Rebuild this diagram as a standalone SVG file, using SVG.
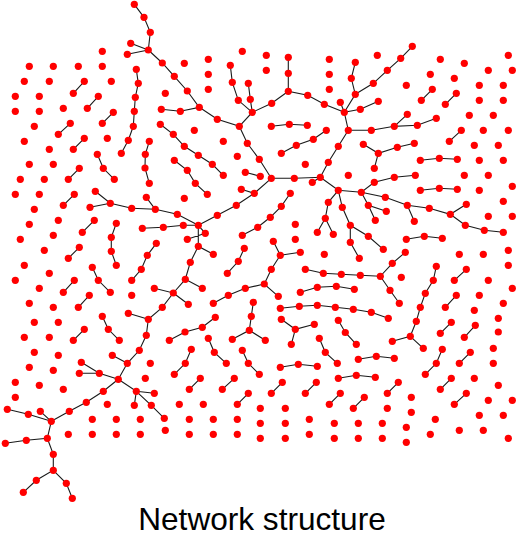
<svg xmlns="http://www.w3.org/2000/svg" width="530" height="537" viewBox="0 0 530 537">
<style>
.n circle{fill:#ff0000;stroke:none}
#connectors path{fill:none;stroke:#1a1a1a;stroke-width:1.1}
.t{font-family:"Liberation Sans",Arial,sans-serif;font-size:31.6px;fill:#000}
</style>
<rect width="530" height="537" fill="#fff"/>
<g id="connectors">
<path d="M84.3,81.3L73.3,93.3M98.3,96.3L87.3,108.3M113.3,112.3L102.3,123.3M70.3,123.3L58.3,134.3M84.3,138.3L73.3,149.3"/>
<path d="M136.3,69.3L138.3,83.3L135.3,97.3L134.3,111.3L133.3,126.3L128.3,140.3L121.3,153.3"/>
<path d="M97.3,154.3L103.3,168.3L114.3,179.3"/>
<path d="M130.7,43.3L148.3,50M127.3,54.3L148.3,50"/>
<path d="M134.3,4.3L144,17.3L150.3,32.3L148.3,50L162.3,63L174.3,76.3L187.3,91L199.3,107.3L180.3,111.3L161.3,109.3"/>
<path d="M199.3,107.3L217.3,119.3L239.3,126.3L247.3,143.3L259.3,159.3L271.3,178.3"/>
<path d="M239.3,126.3L252.3,112.3L271.7,103.3L288.3,91.3"/>
<path d="M230.3,65.3L232.3,82.3L238.3,100.3L252.3,112.3M248.3,83.3L250.3,99.3L252.3,112.3"/>
<path d="M160.3,124.3L173.3,134.3L184.3,146.3L198.3,155.3L212.3,164.3L223.3,175.3"/>
<path d="M149.3,141.3L145.3,154.3L145,168L149.3,183.3"/>
<path d="M174.3,160.3L187.3,170.3L195.3,183.3L207.3,194.3"/>
<path d="M288.3,57.3L288.3,73.3L288.3,91.3L307.7,95.3L324.3,104.3L344.3,112.3"/>
<path d="M355.3,62.3L351.3,78.3L355.3,94.3L344.3,112.3M412.3,46.3L400.7,58.3L387.3,70.3L373.3,83.3L355.3,94.3"/>
<path d="M340.3,102.3L344.3,112.3M378.3,101.3L360.3,109.3L344.3,112.3"/>
<path d="M344.3,112.3L348.3,130.3L371.3,130.3L394.3,126.3M348.3,130.3L338.3,146.3L328.3,162.3L320.3,177.3"/>
<path d="M271.3,126.3L289.3,124.3L307.3,125.3M326.3,130.3L313.3,139.3L296.3,145.3L281.3,153.3"/>
<path d="M363.3,144.3L378.3,153.3L397.3,147.3L414.3,143.3M378.3,153.3L374.3,168.3"/>
<path d="M432.3,89.3L421.3,100.3M456.3,93.3L445.3,104.3M407.3,114.3L394.3,126.3L417.3,125.3L436.3,118.3M461.3,130.3L449.3,141.3M420.3,160.3L439.3,158.3L457.3,159.3"/>
<path d="M79.3,168.3L68.3,179.3M95.3,191.3L110.3,203.3L131.7,208.3M90,207.3L110.3,203.3M74.3,194.3L63.3,205.3M94.3,220.3L82.3,232.3"/>
<path d="M116.3,223.3L111.3,237.3L111.3,251.3L116.3,265.3M79.3,247.3L68.3,258.3M92.3,267.3L98.3,280.3L110.3,292.3M74.3,280.3L63.3,292.3M89.3,295.3L78.3,307.3M102.3,316.3L108.3,329.3L119.3,340.3M84.3,329.3L73.3,340.3"/>
<path d="M245.3,172.3L260.3,176.3M241.3,189.3L254.3,193.3L271.3,178.3M254.3,193.3L236.3,205.3L217.3,215.3L198.3,225.3"/>
<path d="M198.3,225.3L177.3,214.3L155.3,209.3L131.7,208.3M146.3,197.3L155.3,209.3M198.3,225.3L183.3,225.3L163.3,227.3L142.3,228.3"/>
<path d="M198.3,225.3L205.3,233.3L187.3,239.3M198.3,225.3L198.3,246.3L213.3,254.3M198.3,246.3L190.3,262.3L185.3,279.3L202.3,288.3M185.3,279.3L173.3,293L154.3,288.3M173.3,293L188.3,304.3M173.3,293L162.3,307.3L148.3,319.3L146.3,335.3L139.3,350.3L127.3,363.3L118.3,379.3M128.3,313.3L148.3,319.3"/>
<path d="M156.3,243.3L147.3,255.3L141.3,269.3L131.7,280.3M290.3,193.3L281.3,206.3L270.3,217.3L257.7,227.3L242.3,235.3M244.3,248.3L238.3,261.3L227.3,273.3"/>
<path d="M213.3,303.3L228.3,295.3L245.3,288.3L264.3,284L278.3,296.3M264.3,284L271.3,269.3L280.3,255.3L273.3,241.3M280.3,255.3L300.3,252.3"/>
<path d="M253.3,302.3L251.3,316.3L249.3,330.3L232.3,339.3M249.3,330.3L265.3,340.3M215.3,317.3L202.3,327.3L185,332L169.3,340.3"/>
<path d="M271.3,178.3L294.3,178.3L320.3,177.3L312.3,182.3M320.3,177.3L338.3,190.3L361.3,192.3L374.3,182.3L394.3,177.3L415.3,175.3M361.3,192.3L385.3,197.3L407.3,205.3M361.3,192.3L368.3,205.3L386.3,211.3M368.3,205.3L375.3,220.3"/>
<path d="M338.3,190.3L328.3,202.3L325.3,218.3L317.3,232.3M325.3,218.3L333.3,234.3M338.3,190.3L342.3,207.3L350.3,225.3L368.3,236.3L383.3,249.3M350.3,225.3L350.3,242.3L359.3,258.3"/>
<path d="M305.3,269.3L323.3,273.3L341.3,274.3L360.3,275.3L380.3,276.3L392.3,263.3L405.3,252.3M380.3,276.3L390,290.3L399.3,303.3"/>
<path d="M300.3,292.3L317.3,287.3L336.3,286.3L354.3,289.3M280.3,308.3L299.3,306.3L317.3,305.3L335.3,307.3L353.3,309.3L371.3,312.3L388.3,318.3"/>
<path d="M281.3,319.3L295.3,329.3L314.3,324.3M295.3,329.3L291.3,344.3M338.3,320.3L345.3,332.5L356.3,344.3"/>
<path d="M420.3,190.3L439.3,188.3L457.3,189.3M407.3,205.3L429.3,208.3L450.3,214.3L466.3,204.3M407.3,205.3L414.3,221.3M450.3,214.3L465.3,225.3L484.3,230.3L503.3,232.3M406.3,239.3L424.3,236.3L442.3,238.3"/>
<path d="M436.3,266.3L433.3,280.3L425.3,293.3L420.3,307.3L416.3,321.3L410.3,336.3L392.3,341.3M410.3,336.3L423.3,348.3"/>
<path d="M466.3,269.3L454.3,280.3M456.3,295.3L445.3,307.3M451.3,322.3L440.3,333.3M475.3,325.3L464.3,337.3"/>
<path d="M112.3,355.3L127.3,363.3M81.3,362.3L99.3,373.3L118.3,379.3M79.3,373.3L99.3,373.3M118.3,379.3L103.3,391.3L86.3,402.3L69.3,411.3L51.3,421.3M7.3,409.3L28.3,414.3L51.3,421.3M40.3,411.3L51.3,421.3"/>
<path d="M51.3,421.3L47.3,438.3L26.3,440.3L5.3,443.3M47.3,438.3L53.3,454.3L53.3,470.3L36.3,480.3L23.3,492.3M53.3,470.3L66.3,483.3L72.3,498.3"/>
<path d="M118.3,379.3L136.3,391.3L154.3,393.3M136.3,391.3L134.3,405.3M136.3,391.3L151.3,405.3L164.3,418.3"/>
<path d="M208.3,338.3L214.3,352.3L226.3,363.3M191.3,349.3L185.3,363.3L174.3,374.3M200.3,378.3L189.3,389.3M242.3,350.3L248.3,363.3L259.3,374.3M234.3,378.3L222.3,389.3M248.3,393.3L237.3,404.3"/>
<path d="M319.3,338.3L325.3,352.3L337.3,363.3M358.3,359.3L376.3,356.3L394.3,358.3M280.3,367.3L298.3,364.3L317.3,366.3M338.3,378.3L356.3,375.3L375.3,377.3"/>
<path d="M282.3,382.3L271.3,393.3M316.3,382.3L305.3,393.3M340.3,393.3L329.3,404.3M364.3,397.3L353.3,408.3M387.3,393.3L398.3,382.3"/>
<path d="M442.3,349.3L436.3,363.3L425.3,374.3M470.3,352.3L459.3,363.3M451.3,378.3L440.3,389.3M466.3,393.3L454.3,404.3"/>
</g>
<g class="n">
<g id="n1"><circle cx="130.7" cy="43.3" r="3.6"/></g>
<g id="n2"><circle cx="102.3" cy="51.3" r="3.6"/></g>
<g id="n3"><circle cx="127.3" cy="54.3" r="3.6"/></g>
<g id="n4"><circle cx="29.3" cy="66.3" r="3.6"/></g>
<g id="n5"><circle cx="53.3" cy="66.3" r="3.6"/></g>
<g id="n6"><circle cx="78.3" cy="66.3" r="3.6"/></g>
<g id="n7"><circle cx="102.3" cy="66.3" r="3.6"/></g>
<g id="n8"><circle cx="24.3" cy="81.3" r="3.6"/></g>
<g id="n9"><circle cx="49.3" cy="81.3" r="3.6"/></g>
<g id="n10"><circle cx="84.3" cy="81.3" r="3.6"/></g>
<g id="n11"><circle cx="73.3" cy="93.3" r="3.6"/></g>
<g id="n12"><circle cx="111.3" cy="81.3" r="3.6"/></g>
<g id="n13"><circle cx="15.3" cy="96.3" r="3.6"/></g>
<g id="n14"><circle cx="39.3" cy="96.3" r="3.6"/></g>
<g id="n15"><circle cx="98.3" cy="96.3" r="3.6"/></g>
<g id="n16"><circle cx="87.3" cy="108.3" r="3.6"/></g>
<g id="n17"><circle cx="15.3" cy="111.3" r="3.6"/></g>
<g id="n18"><circle cx="39.3" cy="111.3" r="3.6"/></g>
<g id="n19"><circle cx="63.3" cy="108.3" r="3.6"/></g>
<g id="n20"><circle cx="113.3" cy="112.3" r="3.6"/></g>
<g id="n21"><circle cx="102.3" cy="123.3" r="3.6"/></g>
<g id="n22"><circle cx="34.3" cy="126.3" r="3.6"/></g>
<g id="n23"><circle cx="70.3" cy="123.3" r="3.6"/></g>
<g id="n24"><circle cx="58.3" cy="134.3" r="3.6"/></g>
<g id="n25"><circle cx="24.3" cy="141.3" r="3.6"/></g>
<g id="n26"><circle cx="49.3" cy="149.3" r="3.6"/></g>
<g id="n27"><circle cx="84.3" cy="138.3" r="3.6"/></g>
<g id="n28"><circle cx="73.3" cy="149.3" r="3.6"/></g>
<g id="n29"><circle cx="107.3" cy="138.3" r="3.6"/></g>
<g id="n30"><circle cx="128.3" cy="140.3" r="3.6"/></g>
<g id="n31"><circle cx="121.3" cy="153.3" r="3.6"/></g>
<g id="n32"><circle cx="97.3" cy="154.3" r="3.6"/></g>
<g id="n33"><circle cx="29.3" cy="164.3" r="3.6"/></g>
<g id="n34"><circle cx="53.3" cy="164.3" r="3.6"/></g>
<g id="n35"><circle cx="134.3" cy="4.3" r="3.6"/></g>
<g id="n36"><circle cx="144" cy="17.3" r="3.6"/></g>
<g id="n37"><circle cx="150.3" cy="32.3" r="3.6"/></g>
<g id="n38"><circle cx="148.3" cy="50" r="3.6"/></g>
<g id="n39"><circle cx="162.3" cy="63" r="3.6"/></g>
<g id="n40"><circle cx="174.3" cy="76.3" r="3.6"/></g>
<g id="n41"><circle cx="187.3" cy="91" r="3.6"/></g>
<g id="n42"><circle cx="199.3" cy="107.3" r="3.6"/></g>
<g id="n43"><circle cx="180.3" cy="111.3" r="3.6"/></g>
<g id="n44"><circle cx="161.3" cy="109.3" r="3.6"/></g>
<g id="n45"><circle cx="217.3" cy="119.3" r="3.6"/></g>
<g id="n46"><circle cx="239.3" cy="126.3" r="3.6"/></g>
<g id="n47"><circle cx="252.3" cy="112.3" r="3.6"/></g>
<g id="n48"><circle cx="238.3" cy="100.3" r="3.6"/></g>
<g id="n49"><circle cx="232.3" cy="82.3" r="3.6"/></g>
<g id="n50"><circle cx="230.3" cy="65.3" r="3.6"/></g>
<g id="n51"><circle cx="250.3" cy="99.3" r="3.6"/></g>
<g id="n52"><circle cx="248.3" cy="83.3" r="3.6"/></g>
<g id="n53"><circle cx="247.3" cy="143.3" r="3.6"/></g>
<g id="n54"><circle cx="259.3" cy="159.3" r="3.6"/></g>
<g id="n55"><circle cx="242.3" cy="51.3" r="3.6"/></g>
<g id="n56"><circle cx="184.3" cy="63.3" r="3.6"/></g>
<g id="n57"><circle cx="208.3" cy="59.3" r="3.6"/></g>
<g id="n58"><circle cx="208.3" cy="74.3" r="3.6"/></g>
<g id="n59"><circle cx="208.3" cy="89.3" r="3.6"/></g>
<g id="n60"><circle cx="136.3" cy="69.3" r="3.6"/></g>
<g id="n61"><circle cx="138.3" cy="83.3" r="3.6"/></g>
<g id="n62"><circle cx="135.3" cy="97.3" r="3.6"/></g>
<g id="n63"><circle cx="134.3" cy="111.3" r="3.6"/></g>
<g id="n64"><circle cx="133.3" cy="126.3" r="3.6"/></g>
<g id="n65"><circle cx="165.3" cy="93.3" r="3.6"/></g>
<g id="n66"><circle cx="194.3" cy="130.3" r="3.6"/></g>
<g id="n67"><circle cx="223.3" cy="141.3" r="3.6"/></g>
<g id="n68"><circle cx="237.3" cy="156.3" r="3.6"/></g>
<g id="n69"><circle cx="160.3" cy="124.3" r="3.6"/></g>
<g id="n70"><circle cx="173.3" cy="134.3" r="3.6"/></g>
<g id="n71"><circle cx="184.3" cy="146.3" r="3.6"/></g>
<g id="n72"><circle cx="198.3" cy="155.3" r="3.6"/></g>
<g id="n73"><circle cx="212.3" cy="164.3" r="3.6"/></g>
<g id="n74"><circle cx="149.3" cy="141.3" r="3.6"/></g>
<g id="n75"><circle cx="145.3" cy="154.3" r="3.6"/></g>
<g id="n76"><circle cx="145" cy="168" r="3.6"/></g>
<g id="n77"><circle cx="174.3" cy="160.3" r="3.6"/></g>
<g id="n78"><circle cx="266.3" cy="55.3" r="3.6"/></g>
<g id="n79"><circle cx="266.3" cy="70.3" r="3.6"/></g>
<g id="n80"><circle cx="288.3" cy="57.3" r="3.6"/></g>
<g id="n81"><circle cx="288.3" cy="73.3" r="3.6"/></g>
<g id="n82"><circle cx="288.3" cy="91.3" r="3.6"/></g>
<g id="n83"><circle cx="307.7" cy="95.3" r="3.6"/></g>
<g id="n84"><circle cx="324.3" cy="104.3" r="3.6"/></g>
<g id="n85"><circle cx="344.3" cy="112.3" r="3.6"/></g>
<g id="n86"><circle cx="271.7" cy="103.3" r="3.6"/></g>
<g id="n87"><circle cx="329.3" cy="59.3" r="3.6"/></g>
<g id="n88"><circle cx="329.3" cy="74.3" r="3.6"/></g>
<g id="n89"><circle cx="329.3" cy="89.3" r="3.6"/></g>
<g id="n90"><circle cx="355.3" cy="62.3" r="3.6"/></g>
<g id="n91"><circle cx="351.3" cy="78.3" r="3.6"/></g>
<g id="n92"><circle cx="355.3" cy="94.3" r="3.6"/></g>
<g id="n93"><circle cx="377.3" cy="55.3" r="3.6"/></g>
<g id="n94"><circle cx="387.3" cy="70.3" r="3.6"/></g>
<g id="n95"><circle cx="373.3" cy="83.3" r="3.6"/></g>
<g id="n96"><circle cx="340.3" cy="102.3" r="3.6"/></g>
<g id="n97"><circle cx="378.3" cy="101.3" r="3.6"/></g>
<g id="n98"><circle cx="360.3" cy="109.3" r="3.6"/></g>
<g id="n99"><circle cx="348.3" cy="130.3" r="3.6"/></g>
<g id="n100"><circle cx="371.3" cy="130.3" r="3.6"/></g>
<g id="n101"><circle cx="338.3" cy="146.3" r="3.6"/></g>
<g id="n102"><circle cx="328.3" cy="162.3" r="3.6"/></g>
<g id="n103"><circle cx="271.3" cy="126.3" r="3.6"/></g>
<g id="n104"><circle cx="289.3" cy="124.3" r="3.6"/></g>
<g id="n105"><circle cx="307.3" cy="125.3" r="3.6"/></g>
<g id="n106"><circle cx="326.3" cy="130.3" r="3.6"/></g>
<g id="n107"><circle cx="313.3" cy="139.3" r="3.6"/></g>
<g id="n108"><circle cx="296.3" cy="145.3" r="3.6"/></g>
<g id="n109"><circle cx="281.3" cy="153.3" r="3.6"/></g>
<g id="n110"><circle cx="363.3" cy="144.3" r="3.6"/></g>
<g id="n111"><circle cx="378.3" cy="153.3" r="3.6"/></g>
<g id="n112"><circle cx="305.3" cy="164.3" r="3.6"/></g>
<g id="n113"><circle cx="412.3" cy="46.3" r="3.6"/></g>
<g id="n114"><circle cx="400.7" cy="58.3" r="3.6"/></g>
<g id="n115"><circle cx="440.3" cy="59.3" r="3.6"/></g>
<g id="n116"><circle cx="464.3" cy="63.3" r="3.6"/></g>
<g id="n117"><circle cx="508.3" cy="55.3" r="3.6"/></g>
<g id="n118"><circle cx="488.3" cy="70.3" r="3.6"/></g>
<g id="n119"><circle cx="512.3" cy="70.3" r="3.6"/></g>
<g id="n120"><circle cx="430.3" cy="74.3" r="3.6"/></g>
<g id="n121"><circle cx="454.3" cy="78.3" r="3.6"/></g>
<g id="n122"><circle cx="406.3" cy="85.3" r="3.6"/></g>
<g id="n123"><circle cx="432.3" cy="89.3" r="3.6"/></g>
<g id="n124"><circle cx="421.3" cy="100.3" r="3.6"/></g>
<g id="n125"><circle cx="456.3" cy="93.3" r="3.6"/></g>
<g id="n126"><circle cx="445.3" cy="104.3" r="3.6"/></g>
<g id="n127"><circle cx="479.3" cy="85.3" r="3.6"/></g>
<g id="n128"><circle cx="503.3" cy="85.3" r="3.6"/></g>
<g id="n129"><circle cx="479.3" cy="100.3" r="3.6"/></g>
<g id="n130"><circle cx="503.3" cy="100.3" r="3.6"/></g>
<g id="n131"><circle cx="469.3" cy="115.3" r="3.6"/></g>
<g id="n132"><circle cx="493.3" cy="115.3" r="3.6"/></g>
<g id="n133"><circle cx="407.3" cy="114.3" r="3.6"/></g>
<g id="n134"><circle cx="394.3" cy="126.3" r="3.6"/></g>
<g id="n135"><circle cx="417.3" cy="125.3" r="3.6"/></g>
<g id="n136"><circle cx="436.3" cy="118.3" r="3.6"/></g>
<g id="n137"><circle cx="461.3" cy="130.3" r="3.6"/></g>
<g id="n138"><circle cx="449.3" cy="141.3" r="3.6"/></g>
<g id="n139"><circle cx="483.3" cy="130.3" r="3.6"/></g>
<g id="n140"><circle cx="508.3" cy="130.3" r="3.6"/></g>
<g id="n141"><circle cx="474.3" cy="145.3" r="3.6"/></g>
<g id="n142"><circle cx="498.3" cy="145.3" r="3.6"/></g>
<g id="n143"><circle cx="397.3" cy="147.3" r="3.6"/></g>
<g id="n144"><circle cx="414.3" cy="143.3" r="3.6"/></g>
<g id="n145"><circle cx="420.3" cy="160.3" r="3.6"/></g>
<g id="n146"><circle cx="439.3" cy="158.3" r="3.6"/></g>
<g id="n147"><circle cx="457.3" cy="159.3" r="3.6"/></g>
<g id="n148"><circle cx="479.3" cy="160.3" r="3.6"/></g>
<g id="n149"><circle cx="503.3" cy="160.3" r="3.6"/></g>
<g id="n150"><circle cx="79.3" cy="168.3" r="3.6"/></g>
<g id="n151"><circle cx="68.3" cy="179.3" r="3.6"/></g>
<g id="n152"><circle cx="103.3" cy="168.3" r="3.6"/></g>
<g id="n153"><circle cx="114.3" cy="179.3" r="3.6"/></g>
<g id="n154"><circle cx="20.3" cy="179.3" r="3.6"/></g>
<g id="n155"><circle cx="44.3" cy="179.3" r="3.6"/></g>
<g id="n156"><circle cx="15.3" cy="194.3" r="3.6"/></g>
<g id="n157"><circle cx="39.3" cy="194.3" r="3.6"/></g>
<g id="n158"><circle cx="74.3" cy="194.3" r="3.6"/></g>
<g id="n159"><circle cx="63.3" cy="205.3" r="3.6"/></g>
<g id="n160"><circle cx="95.3" cy="191.3" r="3.6"/></g>
<g id="n161"><circle cx="110.3" cy="203.3" r="3.6"/></g>
<g id="n162"><circle cx="90" cy="207.3" r="3.6"/></g>
<g id="n163"><circle cx="34.3" cy="209.3" r="3.6"/></g>
<g id="n164"><circle cx="29.3" cy="224.3" r="3.6"/></g>
<g id="n165"><circle cx="58.3" cy="220.3" r="3.6"/></g>
<g id="n166"><circle cx="94.3" cy="220.3" r="3.6"/></g>
<g id="n167"><circle cx="82.3" cy="232.3" r="3.6"/></g>
<g id="n168"><circle cx="116.3" cy="223.3" r="3.6"/></g>
<g id="n169"><circle cx="111.3" cy="237.3" r="3.6"/></g>
<g id="n170"><circle cx="111.3" cy="251.3" r="3.6"/></g>
<g id="n171"><circle cx="116.3" cy="265.3" r="3.6"/></g>
<g id="n172"><circle cx="20.3" cy="239.3" r="3.6"/></g>
<g id="n173"><circle cx="53.3" cy="235.3" r="3.6"/></g>
<g id="n174"><circle cx="44.3" cy="250.3" r="3.6"/></g>
<g id="n175"><circle cx="79.3" cy="247.3" r="3.6"/></g>
<g id="n176"><circle cx="68.3" cy="258.3" r="3.6"/></g>
<g id="n177"><circle cx="24.3" cy="265.3" r="3.6"/></g>
<g id="n178"><circle cx="49.3" cy="273.3" r="3.6"/></g>
<g id="n179"><circle cx="15.3" cy="280.3" r="3.6"/></g>
<g id="n180"><circle cx="92.3" cy="267.3" r="3.6"/></g>
<g id="n181"><circle cx="98.3" cy="280.3" r="3.6"/></g>
<g id="n182"><circle cx="110.3" cy="292.3" r="3.6"/></g>
<g id="n183"><circle cx="39.3" cy="288.3" r="3.6"/></g>
<g id="n184"><circle cx="74.3" cy="280.3" r="3.6"/></g>
<g id="n185"><circle cx="63.3" cy="292.3" r="3.6"/></g>
<g id="n186"><circle cx="29.3" cy="303.3" r="3.6"/></g>
<g id="n187"><circle cx="53.3" cy="307.3" r="3.6"/></g>
<g id="n188"><circle cx="89.3" cy="295.3" r="3.6"/></g>
<g id="n189"><circle cx="78.3" cy="307.3" r="3.6"/></g>
<g id="n190"><circle cx="128.3" cy="313.3" r="3.6"/></g>
<g id="n191"><circle cx="34.3" cy="322.3" r="3.6"/></g>
<g id="n192"><circle cx="58.3" cy="322.3" r="3.6"/></g>
<g id="n193"><circle cx="102.3" cy="316.3" r="3.6"/></g>
<g id="n194"><circle cx="108.3" cy="329.3" r="3.6"/></g>
<g id="n195"><circle cx="84.3" cy="329.3" r="3.6"/></g>
<g id="n196"><circle cx="149.3" cy="183.3" r="3.6"/></g>
<g id="n197"><circle cx="187.3" cy="170.3" r="3.6"/></g>
<g id="n198"><circle cx="195.3" cy="183.3" r="3.6"/></g>
<g id="n199"><circle cx="207.3" cy="194.3" r="3.6"/></g>
<g id="n200"><circle cx="223.3" cy="175.3" r="3.6"/></g>
<g id="n201"><circle cx="245.3" cy="172.3" r="3.6"/></g>
<g id="n202"><circle cx="260.3" cy="176.3" r="3.6"/></g>
<g id="n203"><circle cx="241.3" cy="189.3" r="3.6"/></g>
<g id="n204"><circle cx="254.3" cy="193.3" r="3.6"/></g>
<g id="n205"><circle cx="236.3" cy="205.3" r="3.6"/></g>
<g id="n206"><circle cx="217.3" cy="215.3" r="3.6"/></g>
<g id="n207"><circle cx="198.3" cy="225.3" r="3.6"/></g>
<g id="n208"><circle cx="177.3" cy="214.3" r="3.6"/></g>
<g id="n209"><circle cx="155.3" cy="209.3" r="3.6"/></g>
<g id="n210"><circle cx="131.7" cy="208.3" r="3.6"/></g>
<g id="n211"><circle cx="146.3" cy="197.3" r="3.6"/></g>
<g id="n212"><circle cx="183.3" cy="225.3" r="3.6"/></g>
<g id="n213"><circle cx="163.3" cy="227.3" r="3.6"/></g>
<g id="n214"><circle cx="142.3" cy="228.3" r="3.6"/></g>
<g id="n215"><circle cx="205.3" cy="233.3" r="3.6"/></g>
<g id="n216"><circle cx="187.3" cy="239.3" r="3.6"/></g>
<g id="n217"><circle cx="198.3" cy="246.3" r="3.6"/></g>
<g id="n218"><circle cx="213.3" cy="254.3" r="3.6"/></g>
<g id="n219"><circle cx="190.3" cy="262.3" r="3.6"/></g>
<g id="n220"><circle cx="185.3" cy="279.3" r="3.6"/></g>
<g id="n221"><circle cx="202.3" cy="288.3" r="3.6"/></g>
<g id="n222"><circle cx="173.3" cy="293" r="3.6"/></g>
<g id="n223"><circle cx="154.3" cy="288.3" r="3.6"/></g>
<g id="n224"><circle cx="188.3" cy="304.3" r="3.6"/></g>
<g id="n225"><circle cx="162.3" cy="307.3" r="3.6"/></g>
<g id="n226"><circle cx="148.3" cy="319.3" r="3.6"/></g>
<g id="n227"><circle cx="184.3" cy="198.3" r="3.6"/></g>
<g id="n228"><circle cx="156.3" cy="243.3" r="3.6"/></g>
<g id="n229"><circle cx="147.3" cy="255.3" r="3.6"/></g>
<g id="n230"><circle cx="141.3" cy="269.3" r="3.6"/></g>
<g id="n231"><circle cx="131.7" cy="280.3" r="3.6"/></g>
<g id="n232"><circle cx="131.7" cy="295.3" r="3.6"/></g>
<g id="n233"><circle cx="257.7" cy="227.3" r="3.6"/></g>
<g id="n234"><circle cx="242.3" cy="235.3" r="3.6"/></g>
<g id="n235"><circle cx="244.3" cy="248.3" r="3.6"/></g>
<g id="n236"><circle cx="238.3" cy="261.3" r="3.6"/></g>
<g id="n237"><circle cx="227.3" cy="273.3" r="3.6"/></g>
<g id="n238"><circle cx="245.3" cy="288.3" r="3.6"/></g>
<g id="n239"><circle cx="228.3" cy="295.3" r="3.6"/></g>
<g id="n240"><circle cx="213.3" cy="303.3" r="3.6"/></g>
<g id="n241"><circle cx="253.3" cy="302.3" r="3.6"/></g>
<g id="n242"><circle cx="251.3" cy="316.3" r="3.6"/></g>
<g id="n243"><circle cx="249.3" cy="330.3" r="3.6"/></g>
<g id="n244"><circle cx="215.3" cy="317.3" r="3.6"/></g>
<g id="n245"><circle cx="202.3" cy="327.3" r="3.6"/></g>
<g id="n246"><circle cx="185" cy="332" r="3.6"/></g>
<g id="n247"><circle cx="271.3" cy="178.3" r="3.6"/></g>
<g id="n248"><circle cx="294.3" cy="178.3" r="3.6"/></g>
<g id="n249"><circle cx="320.3" cy="177.3" r="3.6"/></g>
<g id="n250"><circle cx="312.3" cy="182.3" r="3.6"/></g>
<g id="n251"><circle cx="338.3" cy="190.3" r="3.6"/></g>
<g id="n252"><circle cx="361.3" cy="192.3" r="3.6"/></g>
<g id="n253"><circle cx="374.3" cy="182.3" r="3.6"/></g>
<g id="n254"><circle cx="385.3" cy="197.3" r="3.6"/></g>
<g id="n255"><circle cx="368.3" cy="205.3" r="3.6"/></g>
<g id="n256"><circle cx="386.3" cy="211.3" r="3.6"/></g>
<g id="n257"><circle cx="375.3" cy="220.3" r="3.6"/></g>
<g id="n258"><circle cx="328.3" cy="202.3" r="3.6"/></g>
<g id="n259"><circle cx="325.3" cy="218.3" r="3.6"/></g>
<g id="n260"><circle cx="317.3" cy="232.3" r="3.6"/></g>
<g id="n261"><circle cx="333.3" cy="234.3" r="3.6"/></g>
<g id="n262"><circle cx="342.3" cy="207.3" r="3.6"/></g>
<g id="n263"><circle cx="350.3" cy="225.3" r="3.6"/></g>
<g id="n264"><circle cx="368.3" cy="236.3" r="3.6"/></g>
<g id="n265"><circle cx="383.3" cy="249.3" r="3.6"/></g>
<g id="n266"><circle cx="350.3" cy="242.3" r="3.6"/></g>
<g id="n267"><circle cx="359.3" cy="258.3" r="3.6"/></g>
<g id="n268"><circle cx="374.3" cy="168.3" r="3.6"/></g>
<g id="n269"><circle cx="348.3" cy="175.3" r="3.6"/></g>
<g id="n270"><circle cx="290.3" cy="193.3" r="3.6"/></g>
<g id="n271"><circle cx="281.3" cy="206.3" r="3.6"/></g>
<g id="n272"><circle cx="270.3" cy="217.3" r="3.6"/></g>
<g id="n273"><circle cx="295.3" cy="224.3" r="3.6"/></g>
<g id="n274"><circle cx="295.3" cy="239.3" r="3.6"/></g>
<g id="n275"><circle cx="273.3" cy="241.3" r="3.6"/></g>
<g id="n276"><circle cx="280.3" cy="255.3" r="3.6"/></g>
<g id="n277"><circle cx="300.3" cy="252.3" r="3.6"/></g>
<g id="n278"><circle cx="271.3" cy="269.3" r="3.6"/></g>
<g id="n279"><circle cx="264.3" cy="284" r="3.6"/></g>
<g id="n280"><circle cx="278.3" cy="296.3" r="3.6"/></g>
<g id="n281"><circle cx="324.3" cy="254.3" r="3.6"/></g>
<g id="n282"><circle cx="305.3" cy="269.3" r="3.6"/></g>
<g id="n283"><circle cx="323.3" cy="273.3" r="3.6"/></g>
<g id="n284"><circle cx="341.3" cy="274.3" r="3.6"/></g>
<g id="n285"><circle cx="360.3" cy="275.3" r="3.6"/></g>
<g id="n286"><circle cx="380.3" cy="276.3" r="3.6"/></g>
<g id="n287"><circle cx="392.3" cy="263.3" r="3.6"/></g>
<g id="n288"><circle cx="390" cy="290.3" r="3.6"/></g>
<g id="n289"><circle cx="300.3" cy="292.3" r="3.6"/></g>
<g id="n290"><circle cx="317.3" cy="287.3" r="3.6"/></g>
<g id="n291"><circle cx="336.3" cy="286.3" r="3.6"/></g>
<g id="n292"><circle cx="354.3" cy="289.3" r="3.6"/></g>
<g id="n293"><circle cx="280.3" cy="308.3" r="3.6"/></g>
<g id="n294"><circle cx="299.3" cy="306.3" r="3.6"/></g>
<g id="n295"><circle cx="317.3" cy="305.3" r="3.6"/></g>
<g id="n296"><circle cx="335.3" cy="307.3" r="3.6"/></g>
<g id="n297"><circle cx="353.3" cy="309.3" r="3.6"/></g>
<g id="n298"><circle cx="371.3" cy="312.3" r="3.6"/></g>
<g id="n299"><circle cx="388.3" cy="318.3" r="3.6"/></g>
<g id="n300"><circle cx="281.3" cy="319.3" r="3.6"/></g>
<g id="n301"><circle cx="295.3" cy="329.3" r="3.6"/></g>
<g id="n302"><circle cx="314.3" cy="324.3" r="3.6"/></g>
<g id="n303"><circle cx="338.3" cy="320.3" r="3.6"/></g>
<g id="n304"><circle cx="345.3" cy="332.5" r="3.6"/></g>
<g id="n305"><circle cx="394.3" cy="177.3" r="3.6"/></g>
<g id="n306"><circle cx="415.3" cy="175.3" r="3.6"/></g>
<g id="n307"><circle cx="464.3" cy="175.3" r="3.6"/></g>
<g id="n308"><circle cx="488.3" cy="175.3" r="3.6"/></g>
<g id="n309"><circle cx="420.3" cy="190.3" r="3.6"/></g>
<g id="n310"><circle cx="439.3" cy="188.3" r="3.6"/></g>
<g id="n311"><circle cx="457.3" cy="189.3" r="3.6"/></g>
<g id="n312"><circle cx="479.3" cy="190.3" r="3.6"/></g>
<g id="n313"><circle cx="512.3" cy="186.3" r="3.6"/></g>
<g id="n314"><circle cx="503.3" cy="201.3" r="3.6"/></g>
<g id="n315"><circle cx="407.3" cy="205.3" r="3.6"/></g>
<g id="n316"><circle cx="429.3" cy="208.3" r="3.6"/></g>
<g id="n317"><circle cx="450.3" cy="214.3" r="3.6"/></g>
<g id="n318"><circle cx="414.3" cy="221.3" r="3.6"/></g>
<g id="n319"><circle cx="466.3" cy="204.3" r="3.6"/></g>
<g id="n320"><circle cx="465.3" cy="225.3" r="3.6"/></g>
<g id="n321"><circle cx="484.3" cy="230.3" r="3.6"/></g>
<g id="n322"><circle cx="503.3" cy="232.3" r="3.6"/></g>
<g id="n323"><circle cx="488.3" cy="216.3" r="3.6"/></g>
<g id="n324"><circle cx="512.3" cy="216.3" r="3.6"/></g>
<g id="n325"><circle cx="406.3" cy="239.3" r="3.6"/></g>
<g id="n326"><circle cx="424.3" cy="236.3" r="3.6"/></g>
<g id="n327"><circle cx="442.3" cy="238.3" r="3.6"/></g>
<g id="n328"><circle cx="405.3" cy="252.3" r="3.6"/></g>
<g id="n329"><circle cx="459.3" cy="254.3" r="3.6"/></g>
<g id="n330"><circle cx="483.3" cy="254.3" r="3.6"/></g>
<g id="n331"><circle cx="508.3" cy="250.3" r="3.6"/></g>
<g id="n332"><circle cx="508.3" cy="265.3" r="3.6"/></g>
<g id="n333"><circle cx="436.3" cy="266.3" r="3.6"/></g>
<g id="n334"><circle cx="433.3" cy="280.3" r="3.6"/></g>
<g id="n335"><circle cx="425.3" cy="293.3" r="3.6"/></g>
<g id="n336"><circle cx="420.3" cy="307.3" r="3.6"/></g>
<g id="n337"><circle cx="416.3" cy="321.3" r="3.6"/></g>
<g id="n338"><circle cx="401.3" cy="277.3" r="3.6"/></g>
<g id="n339"><circle cx="466.3" cy="269.3" r="3.6"/></g>
<g id="n340"><circle cx="454.3" cy="280.3" r="3.6"/></g>
<g id="n341"><circle cx="488.3" cy="280.3" r="3.6"/></g>
<g id="n342"><circle cx="512.3" cy="288.3" r="3.6"/></g>
<g id="n343"><circle cx="456.3" cy="295.3" r="3.6"/></g>
<g id="n344"><circle cx="445.3" cy="307.3" r="3.6"/></g>
<g id="n345"><circle cx="479.3" cy="295.3" r="3.6"/></g>
<g id="n346"><circle cx="503.3" cy="303.3" r="3.6"/></g>
<g id="n347"><circle cx="474.3" cy="310.3" r="3.6"/></g>
<g id="n348"><circle cx="498.3" cy="318.3" r="3.6"/></g>
<g id="n349"><circle cx="451.3" cy="322.3" r="3.6"/></g>
<g id="n350"><circle cx="475.3" cy="325.3" r="3.6"/></g>
<g id="n351"><circle cx="498.3" cy="332" r="3.6"/></g>
<g id="n352"><circle cx="399.3" cy="303.3" r="3.6"/></g>
<g id="n353"><circle cx="24.3" cy="337.3" r="3.6"/></g>
<g id="n354"><circle cx="49.3" cy="337.3" r="3.6"/></g>
<g id="n355"><circle cx="73.3" cy="340.3" r="3.6"/></g>
<g id="n356"><circle cx="119.3" cy="340.3" r="3.6"/></g>
<g id="n357"><circle cx="34.3" cy="352.3" r="3.6"/></g>
<g id="n358"><circle cx="58.3" cy="355.3" r="3.6"/></g>
<g id="n359"><circle cx="29.3" cy="367.3" r="3.6"/></g>
<g id="n360"><circle cx="53.3" cy="370.3" r="3.6"/></g>
<g id="n361"><circle cx="15.3" cy="382.3" r="3.6"/></g>
<g id="n362"><circle cx="39.3" cy="385.3" r="3.6"/></g>
<g id="n363"><circle cx="63.3" cy="389.3" r="3.6"/></g>
<g id="n364"><circle cx="15.3" cy="397.3" r="3.6"/></g>
<g id="n365"><circle cx="112.3" cy="355.3" r="3.6"/></g>
<g id="n366"><circle cx="127.3" cy="363.3" r="3.6"/></g>
<g id="n367"><circle cx="118.3" cy="379.3" r="3.6"/></g>
<g id="n368"><circle cx="81.3" cy="362.3" r="3.6"/></g>
<g id="n369"><circle cx="99.3" cy="373.3" r="3.6"/></g>
<g id="n370"><circle cx="79.3" cy="373.3" r="3.6"/></g>
<g id="n371"><circle cx="103.3" cy="391.3" r="3.6"/></g>
<g id="n372"><circle cx="86.3" cy="402.3" r="3.6"/></g>
<g id="n373"><circle cx="69.3" cy="411.3" r="3.6"/></g>
<g id="n374"><circle cx="51.3" cy="421.3" r="3.6"/></g>
<g id="n375"><circle cx="107.3" cy="404.3" r="3.6"/></g>
<g id="n376"><circle cx="7.3" cy="409.3" r="3.6"/></g>
<g id="n377"><circle cx="28.3" cy="414.3" r="3.6"/></g>
<g id="n378"><circle cx="40.3" cy="411.3" r="3.6"/></g>
<g id="n379"><circle cx="47.3" cy="438.3" r="3.6"/></g>
<g id="n380"><circle cx="26.3" cy="440.3" r="3.6"/></g>
<g id="n381"><circle cx="5.3" cy="443.3" r="3.6"/></g>
<g id="n382"><circle cx="53.3" cy="454.3" r="3.6"/></g>
<g id="n383"><circle cx="53.3" cy="470.3" r="3.6"/></g>
<g id="n384"><circle cx="36.3" cy="480.3" r="3.6"/></g>
<g id="n385"><circle cx="23.3" cy="492.3" r="3.6"/></g>
<g id="n386"><circle cx="66.3" cy="483.3" r="3.6"/></g>
<g id="n387"><circle cx="72.3" cy="498.3" r="3.6"/></g>
<g id="n388"><circle cx="92.3" cy="419.3" r="3.6"/></g>
<g id="n389"><circle cx="116.3" cy="419.3" r="3.6"/></g>
<g id="n390"><circle cx="68.3" cy="434.3" r="3.6"/></g>
<g id="n391"><circle cx="92.3" cy="434.3" r="3.6"/></g>
<g id="n392"><circle cx="116.3" cy="434.3" r="3.6"/></g>
<g id="n393"><circle cx="146.3" cy="335.3" r="3.6"/></g>
<g id="n394"><circle cx="139.3" cy="350.3" r="3.6"/></g>
<g id="n395"><circle cx="169.3" cy="340.3" r="3.6"/></g>
<g id="n396"><circle cx="208.3" cy="338.3" r="3.6"/></g>
<g id="n397"><circle cx="214.3" cy="352.3" r="3.6"/></g>
<g id="n398"><circle cx="226.3" cy="363.3" r="3.6"/></g>
<g id="n399"><circle cx="232.3" cy="339.3" r="3.6"/></g>
<g id="n400"><circle cx="150.3" cy="363.3" r="3.6"/></g>
<g id="n401"><circle cx="145.3" cy="378.3" r="3.6"/></g>
<g id="n402"><circle cx="191.3" cy="349.3" r="3.6"/></g>
<g id="n403"><circle cx="185.3" cy="363.3" r="3.6"/></g>
<g id="n404"><circle cx="174.3" cy="374.3" r="3.6"/></g>
<g id="n405"><circle cx="200.3" cy="378.3" r="3.6"/></g>
<g id="n406"><circle cx="189.3" cy="389.3" r="3.6"/></g>
<g id="n407"><circle cx="242.3" cy="350.3" r="3.6"/></g>
<g id="n408"><circle cx="248.3" cy="363.3" r="3.6"/></g>
<g id="n409"><circle cx="259.3" cy="374.3" r="3.6"/></g>
<g id="n410"><circle cx="234.3" cy="378.3" r="3.6"/></g>
<g id="n411"><circle cx="222.3" cy="389.3" r="3.6"/></g>
<g id="n412"><circle cx="248.3" cy="393.3" r="3.6"/></g>
<g id="n413"><circle cx="237.3" cy="404.3" r="3.6"/></g>
<g id="n414"><circle cx="179.3" cy="404.3" r="3.6"/></g>
<g id="n415"><circle cx="203.3" cy="404.3" r="3.6"/></g>
<g id="n416"><circle cx="260.3" cy="408.3" r="3.6"/></g>
<g id="n417"><circle cx="140.3" cy="419.3" r="3.6"/></g>
<g id="n418"><circle cx="189.3" cy="419.3" r="3.6"/></g>
<g id="n419"><circle cx="213.3" cy="419.3" r="3.6"/></g>
<g id="n420"><circle cx="237.3" cy="419.3" r="3.6"/></g>
<g id="n421"><circle cx="260.3" cy="423.3" r="3.6"/></g>
<g id="n422"><circle cx="165.3" cy="430.3" r="3.6"/></g>
<g id="n423"><circle cx="140.3" cy="434.3" r="3.6"/></g>
<g id="n424"><circle cx="189.3" cy="434.3" r="3.6"/></g>
<g id="n425"><circle cx="213.3" cy="434.3" r="3.6"/></g>
<g id="n426"><circle cx="237.3" cy="434.3" r="3.6"/></g>
<g id="n427"><circle cx="260.3" cy="438.3" r="3.6"/></g>
<g id="n428"><circle cx="136.3" cy="391.3" r="3.6"/></g>
<g id="n429"><circle cx="154.3" cy="393.3" r="3.6"/></g>
<g id="n430"><circle cx="134.3" cy="405.3" r="3.6"/></g>
<g id="n431"><circle cx="151.3" cy="405.3" r="3.6"/></g>
<g id="n432"><circle cx="164.3" cy="418.3" r="3.6"/></g>
<g id="n433"><circle cx="265.3" cy="340.3" r="3.6"/></g>
<g id="n434"><circle cx="291.3" cy="344.3" r="3.6"/></g>
<g id="n435"><circle cx="319.3" cy="338.3" r="3.6"/></g>
<g id="n436"><circle cx="325.3" cy="352.3" r="3.6"/></g>
<g id="n437"><circle cx="337.3" cy="363.3" r="3.6"/></g>
<g id="n438"><circle cx="356.3" cy="344.3" r="3.6"/></g>
<g id="n439"><circle cx="392.3" cy="341.3" r="3.6"/></g>
<g id="n440"><circle cx="358.3" cy="359.3" r="3.6"/></g>
<g id="n441"><circle cx="376.3" cy="356.3" r="3.6"/></g>
<g id="n442"><circle cx="280.3" cy="367.3" r="3.6"/></g>
<g id="n443"><circle cx="298.3" cy="364.3" r="3.6"/></g>
<g id="n444"><circle cx="317.3" cy="366.3" r="3.6"/></g>
<g id="n445"><circle cx="338.3" cy="378.3" r="3.6"/></g>
<g id="n446"><circle cx="356.3" cy="375.3" r="3.6"/></g>
<g id="n447"><circle cx="375.3" cy="377.3" r="3.6"/></g>
<g id="n448"><circle cx="282.3" cy="382.3" r="3.6"/></g>
<g id="n449"><circle cx="271.3" cy="393.3" r="3.6"/></g>
<g id="n450"><circle cx="316.3" cy="382.3" r="3.6"/></g>
<g id="n451"><circle cx="305.3" cy="393.3" r="3.6"/></g>
<g id="n452"><circle cx="340.3" cy="393.3" r="3.6"/></g>
<g id="n453"><circle cx="329.3" cy="404.3" r="3.6"/></g>
<g id="n454"><circle cx="364.3" cy="397.3" r="3.6"/></g>
<g id="n455"><circle cx="353.3" cy="408.3" r="3.6"/></g>
<g id="n456"><circle cx="387.3" cy="393.3" r="3.6"/></g>
<g id="n457"><circle cx="285.3" cy="408.3" r="3.6"/></g>
<g id="n458"><circle cx="387.3" cy="408.3" r="3.6"/></g>
<g id="n459"><circle cx="285.3" cy="423.3" r="3.6"/></g>
<g id="n460"><circle cx="309.3" cy="419.3" r="3.6"/></g>
<g id="n461"><circle cx="334.3" cy="423.3" r="3.6"/></g>
<g id="n462"><circle cx="358.3" cy="423.3" r="3.6"/></g>
<g id="n463"><circle cx="382.3" cy="423.3" r="3.6"/></g>
<g id="n464"><circle cx="285.3" cy="438.3" r="3.6"/></g>
<g id="n465"><circle cx="309.3" cy="434.3" r="3.6"/></g>
<g id="n466"><circle cx="334.3" cy="438.3" r="3.6"/></g>
<g id="n467"><circle cx="358.3" cy="438.3" r="3.6"/></g>
<g id="n468"><circle cx="382.3" cy="438.3" r="3.6"/></g>
<g id="n469"><circle cx="410.3" cy="336.3" r="3.6"/></g>
<g id="n470"><circle cx="423.3" cy="348.3" r="3.6"/></g>
<g id="n471"><circle cx="440.3" cy="333.3" r="3.6"/></g>
<g id="n472"><circle cx="464.3" cy="337.3" r="3.6"/></g>
<g id="n473"><circle cx="394.3" cy="358.3" r="3.6"/></g>
<g id="n474"><circle cx="442.3" cy="349.3" r="3.6"/></g>
<g id="n475"><circle cx="436.3" cy="363.3" r="3.6"/></g>
<g id="n476"><circle cx="425.3" cy="374.3" r="3.6"/></g>
<g id="n477"><circle cx="470.3" cy="352.3" r="3.6"/></g>
<g id="n478"><circle cx="459.3" cy="363.3" r="3.6"/></g>
<g id="n479"><circle cx="493.3" cy="348.3" r="3.6"/></g>
<g id="n480"><circle cx="493.3" cy="363.3" r="3.6"/></g>
<g id="n481"><circle cx="451.3" cy="378.3" r="3.6"/></g>
<g id="n482"><circle cx="440.3" cy="389.3" r="3.6"/></g>
<g id="n483"><circle cx="474.3" cy="378.3" r="3.6"/></g>
<g id="n484"><circle cx="498.3" cy="385.3" r="3.6"/></g>
<g id="n485"><circle cx="398.3" cy="382.3" r="3.6"/></g>
<g id="n486"><circle cx="466.3" cy="393.3" r="3.6"/></g>
<g id="n487"><circle cx="454.3" cy="404.3" r="3.6"/></g>
<g id="n488"><circle cx="488.3" cy="400.3" r="3.6"/></g>
<g id="n489"><circle cx="512.3" cy="400.3" r="3.6"/></g>
<g id="n490"><circle cx="411.3" cy="397.3" r="3.6"/></g>
<g id="n491"><circle cx="411.3" cy="412.3" r="3.6"/></g>
<g id="n492"><circle cx="435.3" cy="419.3" r="3.6"/></g>
<g id="n493"><circle cx="479.3" cy="415.3" r="3.6"/></g>
<g id="n494"><circle cx="503.3" cy="415.3" r="3.6"/></g>
<g id="n495"><circle cx="406.3" cy="427.3" r="3.6"/></g>
<g id="n496"><circle cx="430.3" cy="434.3" r="3.6"/></g>
<g id="n497"><circle cx="459.3" cy="430.3" r="3.6"/></g>
<g id="n498"><circle cx="483.3" cy="430.3" r="3.6"/></g>
<g id="n499"><circle cx="508.3" cy="438.3" r="3.6"/></g>
<g id="n500"><circle cx="406.3" cy="442.3" r="3.6"/></g>
</g>
<text class="t" x="262" y="530" text-anchor="middle">Network structure</text>
</svg>
